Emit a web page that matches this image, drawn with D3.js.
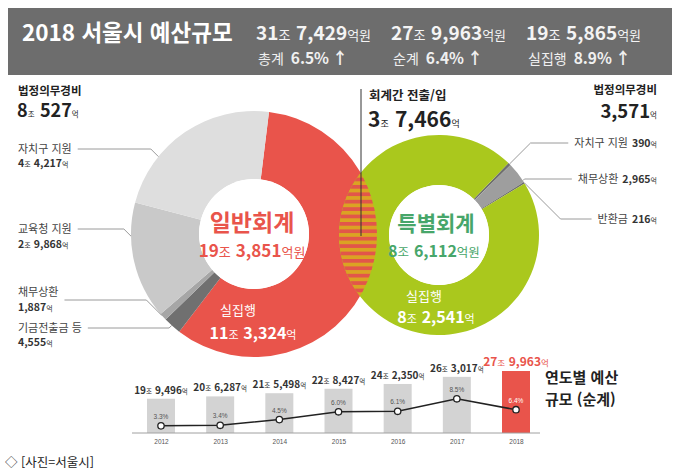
<!DOCTYPE html>
<html lang="ko">
<head>
<meta charset="UTF-8">
<title>2018 서울시 예산규모</title>
<script src="https://cdn.jsdelivr.net/npm/d3@7"></script>
<style>
  html, body { margin: 0; padding: 0; background: #fff; }
  svg { display: block; font-family: 'Noto Sans CJK KR', sans-serif; }
  .num { font-family: 'Liberation Sans Narrow', 'Noto Sans CJK KR', sans-serif; font-weight: bold; }
</style>
</head>
<body>
<svg width="680" height="474"></svg>
<script>
// values in 억원
const summaryNames = ['총계', '순계', '실집행'];
const summaryAmounts = [317429, 279963, 195865];
const summaryGrowth = [6.5, 6.4, 8.9];

const generalNames = ['실집행', '기금전출금 등', '채무상환', '교육청 지원', '자치구 지원'];
const generalValues = [113324, 4555, 1887, 29868, 44217];

const specialNames = ['자치구 지원', '채무상환', '반환금', '실집행'];
const specialValues = [390, 2965, 216, 82541];

const transferAmount = 37466;

const years = [2012, 2013, 2014, 2015, 2016, 2017, 2018];
const netBudget = [199496, 206287, 215498, 228427, 242350, 263017, 279963];
const growthRates = [3.3, 3.4, 4.5, 6.0, 6.1, 8.5, 6.4];

const svg = d3.select('svg');
const deg = Math.PI / 180;
const comma = d3.format(',');

// writes "19조 3,851억" style text into a <text>
function amount(t, v, big, small, unit, bold = true) {
  const jo = Math.floor(v / 10000), rest = v % 10000;
  if (jo > 0) {
    t.append('tspan').attr('class', 'num').attr('font-size', big)
      .attr('font-weight', bold ? 'bold' : 'normal').text(jo);
    t.append('tspan').attr('font-size', small).text('조');
  }
  t.append('tspan').attr('class', 'num').attr('font-size', big)
    .attr('font-weight', bold ? 'bold' : 'normal')
    .attr('dx', jo > 0 ? big * 0.3 : 0).text(comma(rest));
  t.append('tspan').attr('font-size', small).text(unit);
  return t;
}

// ---------- header ----------
svg.append('rect').attr('x', 8).attr('y', 8).attr('width', 664).attr('height', 67)
  .attr('fill', '#6d6d6d');
svg.append('text').attr('x', 22).attr('y', 41).attr('fill', '#fff')
  .attr('font-size', 22.5).attr('font-weight', 'bold').text('2018 서울시 예산규모');

const sumX = [256, 391, 526];
summaryNames.forEach((name, i) => {
  const t1 = svg.append('text').attr('x', sumX[i]).attr('y', 40).attr('fill', '#f4f4f4');
  amount(t1, summaryAmounts[i], 19, 13, '억원');
  const t2 = svg.append('text').attr('x', sumX[i] + 2).attr('y', 64).attr('fill', '#f0f0f0');
  t2.append('tspan').attr('font-size', 14).text(name);
  t2.append('tspan').attr('class', 'num').attr('font-size', 15.5).attr('font-weight', 'normal')
    .attr('dx', 7).text(summaryGrowth[i].toFixed(1) + '%');
  t2.append('tspan').attr('font-size', 16).attr('font-weight', 'bold').attr('dx', 3).text('↑');
});

// ---------- donuts ----------
const L = { cx: 254, cy: 234, r: 123, r0: 55 };
const R = { cx: 439, cy: 235, r: 100, r0: 50 };
const red = '#e9544b', green = '#aac81d';
const leftColors = [red, '#707070', '#a6a6a6', '#c9c9c9', '#dedede'];
const rightColors = ['#6f6f6f', '#9e9e9e', '#6f6f6f', green];

const arcsL = d3.pie().sort(null).startAngle(7 * deg).endAngle(367 * deg)(generalValues);
const arcsR = d3.pie().sort(null).startAngle(44 * deg).endAngle(404 * deg)(specialValues);

function drawDonut(c, arcs, colors) {
  const g = svg.append('g').attr('transform', `translate(${c.cx},${c.cy})`);
  g.selectAll('path').data(arcs).join('path')
    .attr('d', d3.arc().innerRadius(c.r0).outerRadius(c.r))
    .attr('fill', (d, i) => colors[i]);
  g.append('circle').attr('r', c.r0).attr('fill', '#fff');
}
drawDonut(L, arcsL, leftColors);
drawDonut(R, arcsR, rightColors);

// striped overlap between the two accounts
const defs = svg.append('defs');
const pat = defs.append('pattern').attr('id', 'stripes').attr('patternUnits', 'userSpaceOnUse')
  .attr('width', 10).attr('height', 7.4);
pat.append('rect').attr('width', 10).attr('height', 7.4).attr('fill', '#e2564a');
pat.append('rect').attr('y', 3.7).attr('width', 10).attr('height', 3.7).attr('fill', '#dba323');
defs.append('clipPath').attr('id', 'clipR').append('circle')
  .attr('cx', R.cx).attr('cy', R.cy).attr('r', R.r);
svg.append('circle').attr('cx', L.cx).attr('cy', L.cy).attr('r', L.r)
  .attr('fill', 'url(#stripes)').attr('clip-path', 'url(#clipR)');

svg.append('line').attr('x1', 361).attr('x2', 361).attr('y1', 89).attr('y2', 236)
  .attr('stroke', '#333').attr('stroke-width', 1);
svg.append('text').attr('x', 369).attr('y', 100).attr('fill', '#222')
  .attr('font-size', 12.5).attr('font-weight', 'bold').text('회계간 전출/입');
amount(svg.append('text').attr('x', 368).attr('y', 127).attr('fill', '#222'),
  transferAmount, 21, 9, '억');

// centre texts
const sum = a => d3.sum(a);
svg.append('text').attr('x', 252).attr('y', 231).attr('text-anchor', 'middle')
  .attr('fill', red).attr('font-size', 23).attr('font-weight', 'bold').text('일반회계');
amount(svg.append('text').attr('x', 252).attr('y', 257).attr('text-anchor', 'middle').attr('fill', red),
  sum(generalValues), 17, 13, '억원');
svg.append('text').attr('x', 436).attr('y', 231).attr('text-anchor', 'middle')
  .attr('fill', '#47a66a').attr('font-size', 21).attr('font-weight', 'bold').text('특별회계');
amount(svg.append('text').attr('x', 434).attr('y', 257).attr('text-anchor', 'middle').attr('fill', '#47a66a'),
  sum(specialValues), 16, 12.5, '억원');

svg.append('text').attr('x', 238).attr('y', 315).attr('text-anchor', 'middle')
  .attr('fill', '#fff').attr('font-size', 13).text(generalNames[0]);
amount(svg.append('text').attr('x', 253).attr('y', 339).attr('text-anchor', 'middle').attr('fill', '#fff'),
  generalValues[0], 16, 11, '억');
svg.append('text').attr('x', 424).attr('y', 301).attr('text-anchor', 'middle')
  .attr('fill', '#fff').attr('font-size', 13).text(specialNames[3]);
amount(svg.append('text').attr('x', 436).attr('y', 323).attr('text-anchor', 'middle').attr('fill', '#fff'),
  specialValues[3], 16, 11, '억');

// ---------- labels + leader lines ----------
function edgePoint(c, arc, wantDeg) {
  const pad = Math.min(1 * deg, (arc.endAngle - arc.startAngle) / 2);
  const a = Math.max(arc.startAngle + pad, Math.min(arc.endAngle - pad, wantDeg * deg));
  return [c.cx + c.r * Math.sin(a), c.cy - c.r * Math.cos(a)];
}
const leader = d3.line();

svg.append('text').attr('x', 18).attr('y', 95).attr('fill', '#222')
  .attr('font-size', 11.5).attr('font-weight', 'bold').text('법정의무경비');
amount(svg.append('text').attr('x', 17).attr('y', 117).attr('fill', '#222'),
  sum(generalValues.slice(1)), 18, 7.5, '억');

const leftLayout = [
  { i: 4, y1: 153, y2: 167, ly: 149, want: 309 },
  { i: 3, y1: 233, y2: 248, ly: 229, want: 269 },
  { i: 2, y1: 296, y2: 311, ly: 300, want: 242 },
  { i: 1, y1: 332, y2: 346, ly: 328, want: 222 }
];
leftLayout.forEach(o => {
  const name = svg.append('text').attr('x', 18).attr('y', o.y1).attr('fill', '#444')
    .attr('font-size', 11).text(generalNames[o.i]);
  amount(svg.append('text').attr('x', 18).attr('y', o.y2).attr('fill', '#333'),
    generalValues[o.i], 10.5, 7, '억');
  const x0 = 18 + name.node().getComputedTextLength() + 6;
  const p = edgePoint(L, arcsL[o.i], o.want);
  const ex = p[0] - Math.abs(p[1] - o.ly);
  svg.append('path').attr('d', leader([[x0, o.ly], [ex, o.ly], p]))
    .attr('fill', 'none').attr('stroke', '#9a9a9a').attr('stroke-width', 1);
});

svg.append('text').attr('x', 657).attr('y', 94).attr('text-anchor', 'end').attr('fill', '#222')
  .attr('font-size', 11.5).attr('font-weight', 'bold').text('법정의무경비');
amount(svg.append('text').attr('x', 657).attr('y', 118).attr('text-anchor', 'end').attr('fill', '#222'),
  sum(specialValues.slice(0, 3)), 18.5, 7.5, '억');

const rightLayout = [
  { i: 0, y: 147, ly: 143, want: 31 },
  { i: 1, y: 183, ly: 179, want: 60 },
  { i: 2, y: 223, ly: 219, want: 81 }
];
rightLayout.forEach(o => {
  const t = svg.append('text').attr('x', 657).attr('y', o.y).attr('text-anchor', 'end');
  t.append('tspan').attr('fill', '#444').attr('font-size', 11).text(specialNames[o.i]);
  t.append('tspan').attr('class', 'num').attr('fill', '#333').attr('font-size', 10.5)
    .attr('dx', 4).text(comma(specialValues[o.i]));
  t.append('tspan').attr('fill', '#333').attr('font-size', 7).text('억');
  const x1 = t.node().getBBox().x - 6;
  const p = edgePoint(R, arcsR[o.i], o.want);
  const ex = p[0] + Math.abs(p[1] - o.ly);
  svg.append('path').attr('d', leader([p, [ex, o.ly], [x1, o.ly]]))
    .attr('fill', 'none').attr('stroke', '#9a9a9a').attr('stroke-width', 1);
});

// ---------- yearly net budget ----------
const xYear = d3.scalePoint().domain(years).range([161, 516]);
const yBudget = d3.scaleLinear().domain([100000, 280000]).range([433, 371]);
const yRate = d3.scaleLinear().domain([0, 10]).range([443, 391]);
const barW = 28;
const last = years.length - 1;

const chart = svg.append('g');
chart.selectAll('rect.bar').data(years).join('rect').attr('class', 'bar')
  .attr('x', d => xYear(d) - barW / 2)
  .attr('y', (d, i) => yBudget(netBudget[i]))
  .attr('width', barW)
  .attr('height', (d, i) => yBudget.range()[0] - yBudget(netBudget[i]))
  .attr('fill', (d, i) => i === last ? red : '#d3d3d3');

chart.append('line').attr('x1', 132).attr('x2', 540).attr('y1', 433).attr('y2', 433)
  .attr('stroke', '#a0a0a0').attr('stroke-width', 1);
const xAxis = chart.append('g').attr('transform', 'translate(0,433)')
  .call(d3.axisBottom(xYear).tickSize(0).tickPadding(6).tickFormat(d3.format('d')));
xAxis.select('.domain').remove();
xAxis.selectAll('text').attr('font-size', 6.5).attr('fill', '#555')
  .attr('font-family', "'Liberation Sans Narrow', sans-serif");

years.forEach((yr, i) => {
  const t = chart.append('text').attr('x', xYear(yr)).attr('text-anchor', 'middle');
  if (i === last) {
    t.attr('y', yBudget(netBudget[i]) - 5).attr('fill', red);
    amount(t, netBudget[i], 12, 8.5, '억', false);
  } else {
    t.attr('y', yBudget(netBudget[i]) - 5).attr('fill', '#333');
    amount(t, netBudget[i], 10, 6.5, '억');
  }
});

chart.append('path').datum(growthRates)
  .attr('d', d3.line().x((d, i) => xYear(years[i])).y(d => yRate(d)))
  .attr('fill', 'none').attr('stroke', '#222').attr('stroke-width', 1.5);
chart.selectAll('circle.pt').data(growthRates).join('circle').attr('class', 'pt')
  .attr('cx', (d, i) => xYear(years[i])).attr('cy', d => yRate(d)).attr('r', 3.2)
  .attr('fill', '#fff').attr('stroke', '#222').attr('stroke-width', 1.3);
chart.selectAll('text.rate').data(growthRates).join('text').attr('class', 'rate')
  .attr('x', (d, i) => xYear(years[i])).attr('y', d => yRate(d) - 7)
  .attr('text-anchor', 'middle').attr('font-size', 6.5)
  .attr('font-family', "'Liberation Sans Narrow', sans-serif")
  .attr('fill', (d, i) => i === last ? '#fff' : '#555')
  .text(d => d.toFixed(1) + '%');

svg.append('text').attr('x', 545).attr('y', 383).attr('fill', '#222')
  .attr('font-size', 15).attr('font-weight', 'bold').text('연도별 예산');
svg.append('text').attr('x', 545).attr('y', 405).attr('fill', '#222')
  .attr('font-size', 15).attr('font-weight', 'bold').text('규모 (순계)');

svg.append('text').attr('x', 5).attr('y', 467).attr('fill', '#222')
  .attr('font-size', 12.5).text('◇ [사진=서울시]');
</script>
</body>
</html>
